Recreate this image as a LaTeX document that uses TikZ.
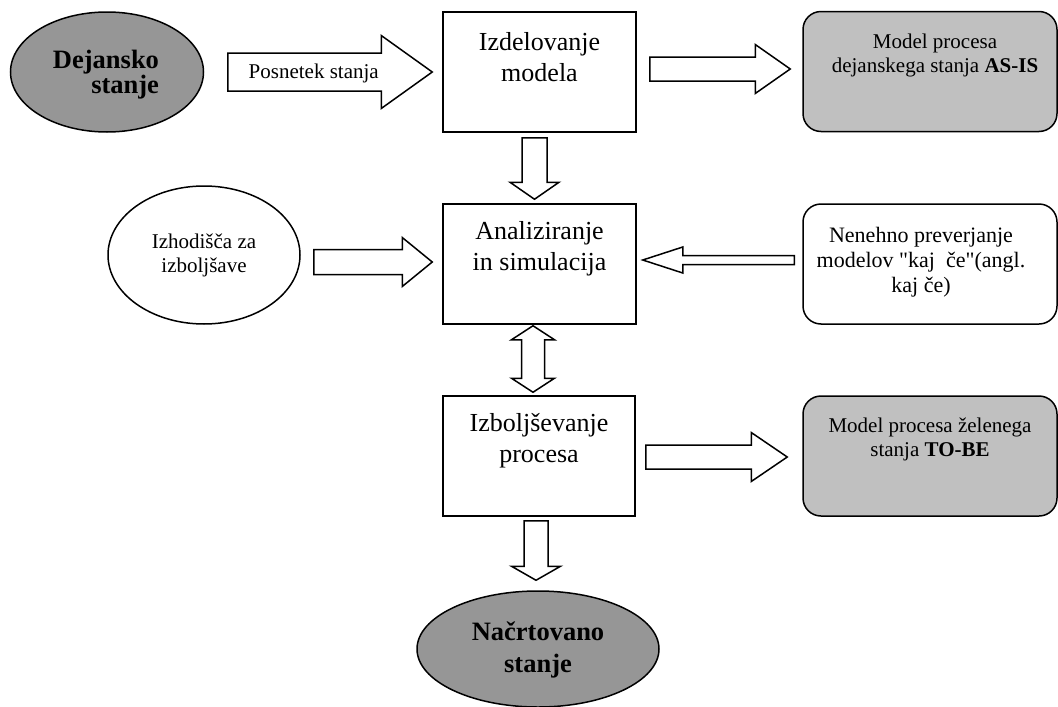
\documentclass[tikz,border=0pt]{standalone}
\usepackage{fontspec}
\setmainfont{Liberation Serif}
% same face without TeX input ligatures, for a straight double quote
\newfontfamily\rawserif{Liberation Serif}
\usetikzlibrary{shapes.geometric, calc}

\definecolor{ovalgray}{HTML}{969696}
\definecolor{panelgray}{HTML}{C0C0C0}

\newcommand{\dq}{{\rawserif\char"22}}

% horizontal block arrow: tail, tip, half shaft width, half head width, head length
\newcommand{\harrow}[5]{%
  \coordinate (ha-base) at ($(#2)!#5!(#1)$);
  \draw[blockarrow] ([yshift=#3]#1) -- ([yshift=#3]ha-base) -- ([yshift=#4]ha-base)
    -- (#2) -- ([yshift=-#4]ha-base) -- ([yshift=-#3]ha-base) -- ([yshift=-#3]#1) -- cycle;
}
% vertical block arrow: tail, tip, half shaft width, half head width, head length
\newcommand{\varrow}[5]{%
  \coordinate (va-base) at ($(#2)!#5!(#1)$);
  \draw[blockarrow] ([xshift=#3]#1) -- ([xshift=#3]va-base) -- ([xshift=#4]va-base)
    -- (#2) -- ([xshift=-#4]va-base) -- ([xshift=-#3]va-base) -- ([xshift=-#3]#1) -- cycle;
}
% vertical double-headed block arrow: upper tip, lower tip, half shaft, half head, head length
\newcommand{\vdarrow}[5]{%
  \coordinate (da-a) at ($(#1)!#5!(#2)$);
  \coordinate (da-b) at ($(#2)!#5!(#1)$);
  \draw[blockarrow] (#1) -- ([xshift=#4]da-a) -- ([xshift=#3]da-a) -- ([xshift=#3]da-b)
    -- ([xshift=#4]da-b) -- (#2) -- ([xshift=-#4]da-b) -- ([xshift=-#3]da-b)
    -- ([xshift=-#3]da-a) -- ([xshift=-#4]da-a) -- cycle;
}

\tikzset{
  stagebox/.style={draw, line width=1.5pt, minimum width=193pt, minimum height=120pt, inner sep=0pt},
  panel/.style={draw, line width=1.5pt, rounded corners=18pt, minimum width=254pt,
                minimum height=120pt, inner sep=0pt},
  oval/.style={draw, ellipse, line width=1.5pt, inner sep=0pt},
  blockarrow/.style={draw, line width=1.5pt, fill=white, line join=miter},
  bigtxt/.style={font=\fontsize{26}{31}\selectfont, align=center, inner sep=0pt},
  smalltxt/.style={font=\fontsize{21}{24}\selectfont, align=center, inner sep=0pt},
  boldtxt/.style={font=\fontsize{26.5}{23}\selectfont\bfseries, inner sep=0pt},
}

\begin{document}
\begin{tikzpicture}[x=1pt, y=-1pt]
\useasboundingbox (0,0) rectangle (1058,707);

% start and end states
\node[oval, fill=ovalgray, minimum width=193pt, minimum height=120pt] (dej) at (107,72) {};
\node[boldtxt, align=right] (dej-t) at (106,75) {Dejansko\\stanje};
\node[oval, fill=ovalgray, minimum width=242pt, minimum height=116pt] (nac) at (538,649) {};
\node[boldtxt, align=center, font=\fontsize{26.5}{32}\selectfont\bfseries] (nac-t) at (538,650) {Načrtovano\\stanje};
\node[oval, minimum width=192pt, minimum height=138pt,
      font=\fontsize{21}{24}\selectfont, align=center] (izh) at (204,255) {Izhodišča za\\izboljšave};

% process steps
\node[stagebox] (b1) at (539.5,72) {};
\node[stagebox] (b2) at (539.5,264) {};
\node[stagebox, minimum width=192pt] (b3) at (539,456) {};
\node[bigtxt] (b1-t) at (539.5,57) {Izdelovanje\\modela};
\node[bigtxt] (b2-t) at (539.5,249) {Analiziranje\\in simulacija};
\node[bigtxt] (b3-t) at (539,441) {Izboljševanje\\procesa};

% side panels
\node[panel, fill=panelgray] (asis) at (930,71.5) {};
\node[panel] (nen) at (930,264) {};
\node[panel, fill=panelgray] (tobe) at (930,456) {};
\node[smalltxt] (asis-t) at (935,55) {Model procesa\\dejanskega stanja \textbf{AS-IS}};
\node[smalltxt, font=\fontsize{22}{25}\selectfont] (nen-t) at (921,262) {Nenehno preverjanje\\modelov \dq kaj~~če\dq(angl.\\kaj če)};
\node[smalltxt] (tobe-t) at (930,439) {Model procesa želenega\\stanja \textbf{TO-BE}};

% arrow end points
\coordinate (p-tail) at ($(dej.east)+(23.5,0)$);
\coordinate (p-tip)  at ($(b1.west)+(-10,0)$);
\coordinate (a-tail) at ($(b1.east)+(13,-3)$);
\coordinate (a-tip)  at ($(asis.west)+(-12,-2.5)$);
\coordinate (m-tail) at ($(b1.south)+(-5,5)$);
\coordinate (m-tip)  at ($(b2.north)+(-5,-4)$);
\coordinate (i-tail) at ($(izh.east)+(13,7)$);
\coordinate (i-tip)  at ($(b2.west)+(-10,-2)$);
\coordinate (n-tail) at ($(nen.west)+(-8,-4)$);
\coordinate (n-tip)  at ($(b2.east)+(6,-4)$);
\coordinate (d-top)  at ($(b2.south)+(-6.5,1)$);
\coordinate (d-bot)  at ($(b3.north)+(-6,-3)$);
\coordinate (t-tail) at ($(b3.east)+(10,1)$);
\coordinate (t-tip)  at ($(tobe.west)+(-15,1)$);
\coordinate (e-tail) at ($(b3.south)+(-3,4)$);
\coordinate (e-tip)  at ($(nac.north)+(-2,-10)$);

% block arrows
\harrow{p-tail}{p-tip}{19pt}{36.5pt}{51pt}
\node[smalltxt] (posnetek) at ($(p-tail)+(86,1)$) {Posnetek stanja};
\harrow{a-tail}{a-tip}{12pt}{24.5pt}{35pt}
\varrow{m-tail}{m-tip}{12.5pt}{24.5pt}{17pt}
\harrow{i-tail}{i-tip}{12.5pt}{24.5pt}{30pt}
\harrow{n-tail}{n-tip}{4.5pt}{13pt}{40pt}
\vdarrow{d-top}{d-bot}{11.5pt}{21.5pt}{14pt}
\harrow{t-tail}{t-tip}{12pt}{24.5pt}{36pt}
\varrow{e-tail}{e-tip}{12pt}{24.5pt}{14pt}

\end{tikzpicture}
\end{document}
